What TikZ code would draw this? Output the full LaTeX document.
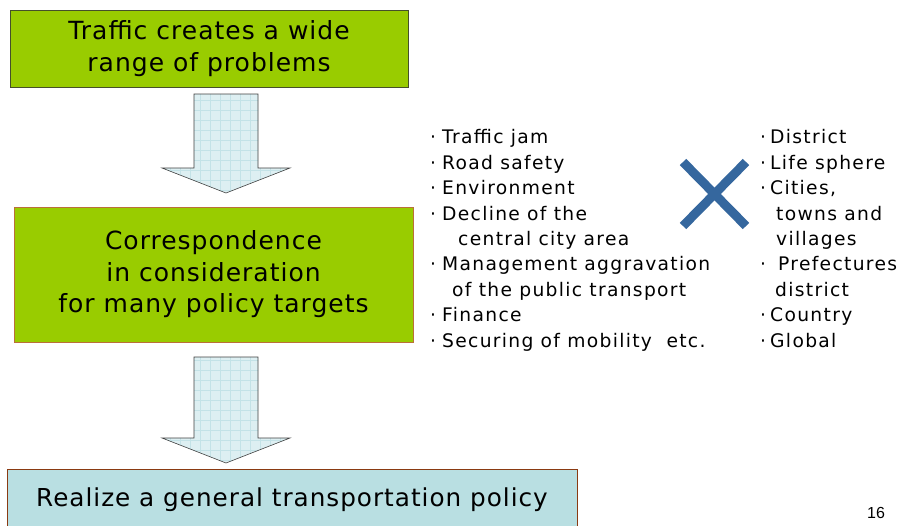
\documentclass[tikz,border=0pt]{standalone}
\usepackage{fontspec}
\setmainfont{DejaVu Sans}
\newfontfamily\boxfont[LetterSpace=4]{DejaVu Sans}
\newfontfamily\listfont[LetterSpace=7]{DejaVu Sans}
\newfontfamily\numfont{Liberation Sans}

\definecolor{boxgreen}{HTML}{99CC00}
\definecolor{greenedge}{HTML}{46502A}
\definecolor{orangeedge}{HTML}{BA7038}
\definecolor{policyblue}{HTML}{B9DFE2}
\definecolor{policyedge}{HTML}{8A3A12}
\definecolor{arrowblue}{HTML}{DDEFF2}
\definecolor{gridblue}{HTML}{C3E2E7}
\definecolor{crossblue}{HTML}{35679E}

\newcommand{\bul}[1][10pt]{\makebox[#1][l]{·}}

\tikzset{
  greenbox/.style={draw=#1, fill=boxgreen, line width=0.8pt, inner sep=0pt, align=center,
    font=\boxfont\fontsize{25}{31.5}\selectfont},
  policybox/.style={draw=policyedge, fill=policyblue, line width=1pt, inner sep=0pt, align=center,
    font=\boxfont\fontsize{24.7}{31.5}\selectfont},
  arrowbody/.style={draw=black!75, fill=arrowblue, line width=0.6pt},
  gridline/.style={draw=gridblue, line width=0.4pt, step=10pt},
  listtext/.style={inner sep=0pt, align=left, font=\listfont\fontsize{18.7}{25.4}\selectfont},
  crossline/.style={draw=crossblue, line width=9pt}
}

% block arrow: x, top, shaft length
\newcommand{\downblock}[3]{%
  \path[arrowbody, path picture={\draw[gridline] (path picture bounding box.south west) grid (path picture bounding box.north east);}]
    (#1-32,#2) -- (#1+32,#2) -- (#1+32,#2+#3) -- (#1+64,#2+#3) -- (#1,#2+#3+25)
    -- (#1-64,#2+#3) -- (#1-32,#2+#3) -- cycle;}

\begin{document}
\begin{tikzpicture}[x=1pt, y=-1pt]
\useasboundingbox (0,0) rectangle (905,525);

\node[greenbox=greenedge, minimum width=398pt, minimum height=77pt] at (209,48.5) (problems)
  {Traffic creates a wide\\range of problems};
\node[greenbox=orangeedge, minimum width=399pt, minimum height=135pt] at (213.5,274.5) (targets)
  {Correspondence\\in consideration\\for many policy targets};
\node[policybox, minimum width=570pt, minimum height=62pt] at (292,500) (policy)
  {Realize a general transportation policy};

\downblock{226}{94}{74}
\downblock{226}{357}{81}

\node[listtext, anchor=base west] at (430,347) (issues)
  {\bul[12pt]Traffic jam\\\bul[12pt]Road safety\\\bul[12pt]Environment\\\bul[12pt]Decline of the\\
   \hspace*{28pt}central city area\\\bul[12pt]Management aggravation\\
   \hspace*{22pt}of the public transport\\\bul[12pt]Finance\\\bul[12pt]Securing of mobility\ \ etc.};

\draw[crossline] (683,162) -- (746,226);
\draw[crossline] (746,162) -- (683,226);

\node[listtext, anchor=base west] at (760,347) (scales)
  {\bul District\\\bul Life sphere\\\bul Cities,\\\hspace*{16pt}towns and\\\hspace*{16pt}villages\\
   \bul[18pt]Prefectures\\\hspace*{15pt}district\\\bul Country\\\bul Global};

\node[font=\numfont\fontsize{16}{18}\selectfont, anchor=base] at (876,518) (page) {16};
\end{tikzpicture}
\end{document}
